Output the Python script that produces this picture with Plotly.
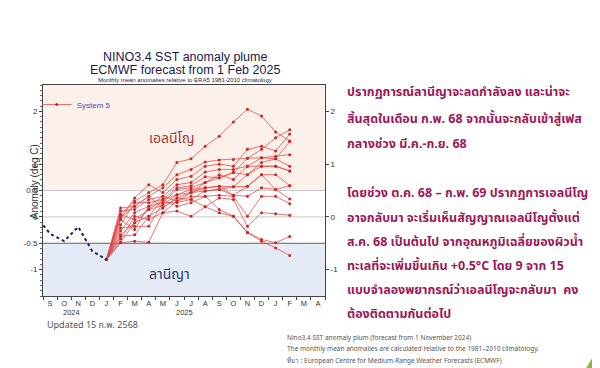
import plotly.graph_objects as go

# ---------------- data ----------------
month_labels = ["S", "O", "N", "D", "J", "F", "M", "A", "M", "J",
                "J", "A", "S", "O", "N", "D", "J", "F", "M", "A"]
month_index = list(range(len(month_labels)))          # Sep 2024 = 0 ... Apr 2026 = 19
year_labels = ["2024", "2025"]
year_positions = [1.5, 9.5]

obs_x = [-1, 0, 1, 2, 3, 4]                            # Aug 2024 .. Jan 2025
obs_values = [0.02, -0.32, -0.46, -0.19, -0.65, -0.81]

fc_x = list(range(4, 18))                              # Jan 2025 (start) .. Feb 2026
fc_start = -0.81
members = [
    [0.05, 0.30, 0.46, 0.61, 1.03, 1.10, 1.34, 1.53, 1.80, 2.04, 1.91, 1.61, 1.44],
    [0.17, 0.20, 0.39, 0.55, 0.80, 0.90, 1.04, 1.08, 1.09, 1.11, 1.28, 1.50, 1.65],
    [-0.05, 0.36, 0.61, 0.46, 0.71, 0.77, 0.96, 1.00, 0.96, 1.28, 1.34, 1.25, 1.57],
    [0.11, 0.14, 0.33, 0.39, 0.61, 0.65, 0.85, 0.90, 0.90, 0.96, 1.12, 1.15, 1.18],
    [-0.15, 0.27, 0.27, 0.33, 0.55, 0.59, 0.76, 0.74, 0.84, 0.80, 1.03, 1.10, 0.96],
    [-0.27, 0.08, 0.20, 0.27, 0.52, 0.55, 0.65, 0.80, 0.71, 0.96, 0.96, 0.96, 0.87],
    [0.04, -0.05, 0.14, 0.22, 0.42, 0.52, 0.55, 0.58, 0.57, 0.58, 0.80, 0.80, 0.59],
    [-0.34, -0.11, 0.01, 0.17, 0.36, 0.46, 0.49, 0.52, 0.41, 0.39, 0.55, 0.52, 0.34],
    [-0.42, 0.01, -0.05, 0.08, 0.30, 0.39, 0.39, 0.41, 0.39, 0.01, 0.39, 0.39, 0.25],
    [-0.21, -0.18, -0.18, 0.27, 0.27, 0.33, 0.19, 0.36, 0.33, -0.18, 0.08, 0.06, 0.03],
    [-0.37, -0.34, 0.01, 0.33, 0.20, 0.27, 0.39, 0.14, 0.01, -0.29, -0.43, -0.49, -0.37],
    [-0.49, -0.46, -0.48, 0.08, 0.11, 0.01, 0.19, 0.08, 0.01, -0.30, -0.46, -0.59, -0.73],
    [-0.05, -0.24, 0.20, 0.39, 0.30, 0.46, 0.65, 0.74, 0.84, 1.11, 1.12, 1.10, 1.43],
    [-0.48, -0.11, 0.14, 0.33, 0.42, 0.46, 0.55, 0.58, 0.41, 0.58, 0.80, 0.52, 0.59],
    [0.00, 0.20, 0.39, 0.17, 0.36, 0.33, 0.49, 0.52, 0.57, 0.80, 0.96, 0.96, 0.87],
]

left_ticks = [2, 1, 0.5, 0, -0.5, -1]
right_ticks = [2, 1, 0, -1]

title_lines = ["NINO3.4 SST anomaly plume", "ECMWF forecast from 1 Feb 2025"]
subtitle = "Monthly mean anomalies relative to ERA5 1981-2010 climatology"
y_title = "Anomaly (deg C)"

para1 = ["ปรากฏการณ์ลานีญาจะลดกำลังลง และน่าจะ",
         "สิ้นสุดในเดือน ก.พ. 68 จากนั้นจะกลับเข้าสู่เฟส",
         "กลางช่วง มี.ค.-ก.ย. 68"]
para2 = ["โดยช่วง ต.ค. 68 – ก.พ. 69 ปรากฏการเอลนีโญ",
         "อาจกลับมา จะเริ่มเห็นสัญญาณเอลนีโญตั้งแต่",
         "ส.ค. 68 เป็นต้นไป จากอุณหภูมิเฉลี่ยของผิวน้ำ",
         "ทะเลที่จะเพิ่มขึ้นเกิน +0.5°C โดย 9 จาก 15",
         "แบบจำลองพยากรณ์ว่าเอลนีโญจะกลับมา  คง",
         "ต้องติดตามกันต่อไป"]
caption = ["Nino3.4 SST anomaly plum (forecast from 1 November 2024)",
           "The monthly mean anomalies are calculated relative to the 1981–2010 climatology.",
           "ที่มา : European Centre for Medium-Range Weather Forecasts (ECMWF)"]
updated = "Updated 15 ก.พ. 2568"

# ---------------- figure ----------------
OFF = 8                      # page body margin of the html page
W, H = 600 - OFF, 368 - OFF
# plot area in final screen pixels
SL, SR, ST, SB = 43.3, 325.0, 85.0, 296.0
L, R, T, B = SL - OFF, SR - OFF, ST - OFF, SB - OFF
FONT = "Liberation Sans, Arial, sans-serif"
THAI = "Noto Sans Thai, Loma, Garuda, Noto Sans, sans-serif"


def px(xs):
    return (xs - OFF - L) / (R - L)


def py(ys):
    return (B - (ys - OFF)) / (B - T)


fig = go.Figure()

# shaded regimes
fig.add_shape(type="rect", xref="paper", yref="y", x0=0, x1=1, y0=0.5, y1=2.5,
              fillcolor="#fcf0ea", line_width=0, layer="below")
fig.add_shape(type="rect", xref="paper", yref="y", x0=0, x1=1, y0=-1.5, y1=-0.5,
              fillcolor="#e5ebf6", line_width=0, layer="below")
for yv, col, w in [(0.5, "#c8c8c8", 1), (0, "#c8c8c8", 1), (-0.5, "#606060", 1.2)]:
    fig.add_shape(type="line", xref="paper", yref="y", x0=0, x1=1, y0=yv, y1=yv,
                  line=dict(color=col, width=w), layer="below")

# forecast members
for i, m in enumerate(members):
    fig.add_trace(go.Scatter(
        x=fc_x, y=[fc_start] + m, mode="lines+markers",
        line=dict(color="rgba(225,70,70,0.75)", width=1),
        marker=dict(size=3, color="#d02525"),
        name="System 5", showlegend=(i == 0), legendgroup="s5"))

# observed
fig.add_trace(go.Scatter(x=obs_x, y=obs_values, mode="lines",
                         line=dict(color="#1c1c6a", width=2, dash="dot"),
                         showlegend=False))

# dummy trace for right axis
fig.add_trace(go.Scatter(x=[None], y=[None], yaxis="y2", showlegend=False))

fig.update_layout(
    width=W, height=H,
    margin=dict(l=L, r=W - R, t=T, b=H - B, autoexpand=False),
    paper_bgcolor="white", plot_bgcolor="white",
    font=dict(family=FONT, color="#333333"),
    xaxis=dict(range=[-0.5, 19.5], tickmode="array", tickvals=month_index,
               ticktext=month_labels, ticks="", showgrid=False, zeroline=False,
               showline=True, linecolor="#444", mirror=True, automargin=False,
               tickfont=dict(size=7.5, color="#333"),
               minor=dict(tickmode="array", tickvals=[v - 0.5 for v in range(21)],
                          ticks="outside", ticklen=3, tickcolor="#444", showgrid=False)),
    yaxis=dict(range=[-1.5, 2.5], tickmode="array", tickvals=left_ticks,
               ticktext=[("%g" % v) for v in left_ticks], ticks="outside", ticklen=3,
               tickcolor="#444", showgrid=False, zeroline=False, showline=True,
               linecolor="#444", tickfont=dict(size=8, color="#333"), automargin=False,
               minor=dict(dtick=0.1, ticks="outside", ticklen=2, tickcolor="#666")),
    yaxis2=dict(range=[-1.5, 2.5], overlaying="y", side="right", tickmode="array",
                tickvals=right_ticks, ticktext=[("%g" % v) for v in right_ticks],
                ticks="outside", ticklen=3, tickcolor="#444", showgrid=False,
                zeroline=False, showline=True, linecolor="#444", automargin=False,
                tickfont=dict(size=8, color="#333")),
    legend=dict(x=px(37), y=py(90), xanchor="left", yanchor="top",
                bgcolor="rgba(0,0,0,0)", font=dict(size=8, color="#4a4ac0"),
                itemwidth=30, tracegroupgap=0),
    showlegend=True,
)

ann = []
# titles
ann.append(dict(text=title_lines[0], x=px(185), y=py(57), xref="paper", yref="paper",
                yanchor="middle", showarrow=False,
                font=dict(size=12.5, color="#1a1a4a", family=FONT)))
ann.append(dict(text=title_lines[1], x=px(185), y=py(70), xref="paper", yref="paper",
                yanchor="middle", showarrow=False,
                font=dict(size=12.5, color="#1a1a4a", family=FONT)))
ann.append(dict(text=subtitle, x=px(185), y=py(80.5), xref="paper", yref="paper",
                yanchor="middle", showarrow=False,
                font=dict(size=6, color="#1a1a4a", family=FONT)))
# y axis title
ann.append(dict(text=y_title, x=px(27), y=py(182), xref="paper", yref="paper",
                textangle=-90, showarrow=False,
                font=dict(size=10, color="#333", family=FONT)))
# regime labels
ann.append(dict(text="เอลนีโญ", x=8.6, y=1.49, xref="x", yref="y", showarrow=False,
                font=dict(size=14, color="#a03a30", family=THAI)))
ann.append(dict(text="ลานีญา", x=8.5, y=-1.1, xref="x", yref="y", showarrow=False,
                font=dict(size=14, color="#2a3470", family=THAI)))
# year labels
for yl, xp in zip(year_labels, year_positions):
    ann.append(dict(text=yl, x=xp, y=py(312.5), xref="x", yref="paper", yanchor="middle",
                    showarrow=False, font=dict(size=7.5, color="#333", family=FONT)))
# updated
ann.append(dict(text=updated, x=px(45), y=py(325), xref="paper", yref="paper",
                xanchor="left", yanchor="middle", showarrow=False,
                font=dict(size=9, color="#555", family=THAI)))
# right paragraphs
ys1 = [93, 119, 144]
ys2 = [193, 218, 242, 266, 290, 314]
for txt, yy in list(zip(para1, ys1)) + list(zip(para2, ys2)):
    ann.append(dict(text="<b>" + txt + "</b>", x=px(345), y=py(yy), xref="paper",
                    yref="paper", xanchor="left", yanchor="middle", showarrow=False,
                    font=dict(size=12.5, color="#9c1858", family=THAI)))
# caption
for txt, yy in zip(caption, [337, 348, 360]):
    ann.append(dict(text=txt, x=px(285), y=py(yy), xref="paper", yref="paper",
                    xanchor="left", yanchor="middle", showarrow=False,
                    font=dict(size=6.5, color="#555", family="Noto Sans, sans-serif")))
fig.update_layout(annotations=ann)

# slide decoration triangle (bottom-right corner)
fig.add_shape(type="path", xref="paper", yref="paper",
              path="M %f %f L %f %f L %f %f Z" % (px(586), py(368), px(600), py(368),
                                                 px(600), py(344)),
              fillcolor="#8cb33e", line_width=0)

fig.write_html("out.html")
